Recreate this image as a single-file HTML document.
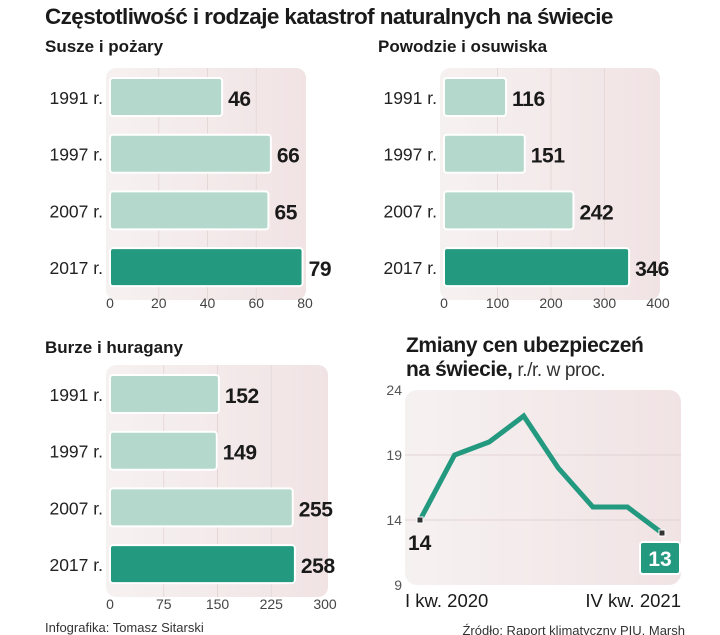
<!DOCTYPE html>
<html><head><meta charset="utf-8">
<style>
body{margin:0;background:#fff;}
svg{display:block;font-family:"Liberation Sans",sans-serif;}
.yl{font-size:17.5px;fill:#222;text-anchor:end;}
.val{font-size:21px;font-weight:bold;fill:#1a1a1a;letter-spacing:-0.4px;}
.tk{font-size:14px;fill:#444;text-anchor:middle;}
</style></head><body>
<svg id="c" width="720" height="635" viewBox="0 0 720 635">
<defs>
<linearGradient id="pbg" x1="0" y1="0" x2="1" y2="0"><stop offset="0" stop-color="#f6f1f1"/><stop offset="1" stop-color="#f1e3e4"/></linearGradient>
</defs>
<text x="45" y="24" font-size="22.5" font-weight="bold" fill="#1a1a1a" letter-spacing="-0.6">Częstotliwość i rodzaje katastrof naturalnych na świecie</text>
<text x="45" y="52" font-size="17" font-weight="bold" fill="#1a1a1a">Susze i pożary</text>
<text x="378" y="52" font-size="17" font-weight="bold" fill="#1a1a1a">Powodzie i osuwiska</text>
<text x="45" y="353" font-size="17" font-weight="bold" fill="#1a1a1a">Burze i huragany</text>
<text x="406" y="352" font-size="21" font-weight="bold" fill="#1a1a1a" letter-spacing="-0.4">Zmiany cen ubezpieczeń</text>
<text x="406" y="376" font-size="21" fill="#1a1a1a" letter-spacing="-0.4"><tspan font-weight="bold">na świecie,</tspan><tspan font-weight="normal" font-size="19" fill="#333"> r./r. w proc.</tspan></text>
<text x="45" y="632" font-size="13" fill="#333">Infografika: Tomasz Sitarski</text>
<text x="685" y="635" font-size="13" fill="#333" text-anchor="end">Źródło: Raport klimatyczny PIU, Marsh</text>
<g id="charts"></g>
</svg>
<script>
const years = ["1991 r.","1997 r.","2007 r.","2017 r."];
const droughtValues = [46,66,65,79];
const droughtTicks = [0,20,40,60,80];
const floodValues = [116,151,242,346];
const floodTicks = [0,100,200,300,400];
const stormValues = [152,149,255,258];
const stormTicks = [0,75,150,225,300];
const quarters = ["I kw. 2020","II kw. 2020","III kw. 2020","IV kw. 2020","I kw. 2021","II kw. 2021","III kw. 2021","IV kw. 2021"];
const priceChanges = [14,19,20,22,18,15,15,13];
const priceTicks = [9,14,19,24];

const NS="http://www.w3.org/2000/svg";
const root=document.getElementById('charts');
function mk(tag,attrs,parent){const e=document.createElementNS(NS,tag);for(const k in attrs)e.setAttribute(k,attrs[k]);(parent||root).appendChild(e);return e;}

function barChart(name,values,ticks,x0,x1,yTop,px0,px1,tickY){
  const g=mk('g',{});
  
  
  const max=ticks[ticks.length-1];
  const sx=v=>x0+(x1-x0)*v/max;
  const bg=mk('rect',{x:px0,y:yTop-10,width:px1-px0,height:4*57+4,rx:10,fill:'url(#pbg)'},g);
  
  
  ticks.forEach((t,i)=>{
    if(i>0&&i<ticks.length-1){const l=mk('line',{x1:sx(t),x2:sx(t),y1:yTop-10,y2:yTop+222,stroke:'#e6d8d9','stroke-width':1},g);
      
      }
    const tx=mk('text',{x:sx(t),y:tickY,class:'tk'},g);tx.textContent=t;
    
    
  });
  values.forEach((v,i)=>{
    const y=yTop+i*56.7;
    const last=i===values.length-1;
    const r=mk('rect',{x:x0,y:y,width:Math.max(2,sx(v)-x0),height:38,rx:3,fill:last?'#23997f':'#b4d8cb',stroke:'#fff','stroke-width':2},g);
    
    
    const yl=mk('text',{x:x0-7,y:y+26,class:'yl'},g);yl.textContent=years[i];
    
    
    const vl=mk('text',{x:sx(v)+6,y:y+28,class:'val'},g);vl.textContent=v;
    
    
  });
}
barChart('drought',droughtValues,droughtTicks,110,305,78,106,306,308);
barChart('flood',floodValues,floodTicks,444,658,78,440,660,308);
barChart('storm',stormValues,stormTicks,110,325,375,106,328,609);

const lg=mk('g',{});


const yMin=9,yMax=24,py0=585,py1=390,lx0=420,lx1=662;
const sy=v=>py0-(py0-py1)*(v-yMin)/(yMax-yMin);
const sxl=i=>lx0+(lx1-lx0)*i/(priceChanges.length-1);
const lbg=mk('rect',{x:405,y:390,width:276,height:195,rx:12,fill:'url(#pbg)'},lg);


priceTicks.forEach(t=>{
  if(t>yMin&&t<yMax){const l=mk('line',{x1:405,x2:681,y1:sy(t),y2:sy(t),stroke:'#e3d3d4','stroke-width':1},lg);
    
    }
  const tx=mk('text',{x:402,y:sy(t)+5,'font-size':14,fill:'#555','text-anchor':'end'},lg);tx.textContent=t;
  
  
});
const line=mk('polyline',{points:priceChanges.map((v,i)=>sxl(i)+','+sy(v)).join(' '),fill:'none',stroke:'#23997f','stroke-width':5,'stroke-linejoin':'miter'},lg);


[0,priceChanges.length-1].forEach(i=>{
  const m=mk('rect',{x:sxl(i)-3,y:sy(priceChanges[i])-3,width:6,height:6,fill:'#333',stroke:'#fff','stroke-width':1},lg);
  
  
});
const fl=mk('text',{x:sxl(0)-12,y:sy(priceChanges[0])+30,'font-size':21,'font-weight':'bold',fill:'#1a1a1a'},lg);fl.textContent=priceChanges[0];


const li=priceChanges.length-1;
const lb=mk('rect',{x:sxl(li)-22,y:sy(priceChanges[li])+9,width:40,height:32,rx:3,fill:'#23997f',stroke:'#fff','stroke-width':2},lg);


const ll=mk('text',{x:sxl(li)-2,y:sy(priceChanges[li])+33,'font-size':21,'font-weight':'bold',fill:'#fff','text-anchor':'middle'},lg);ll.textContent=priceChanges[li];


const q0=mk('text',{x:405,y:607,'font-size':18.5,fill:'#1a1a1a'},lg);q0.textContent=quarters[0];


const q1=mk('text',{x:681,y:607,'font-size':18.5,fill:'#1a1a1a','text-anchor':'end'},lg);q1.textContent=quarters[li];


</script>
</body></html>
